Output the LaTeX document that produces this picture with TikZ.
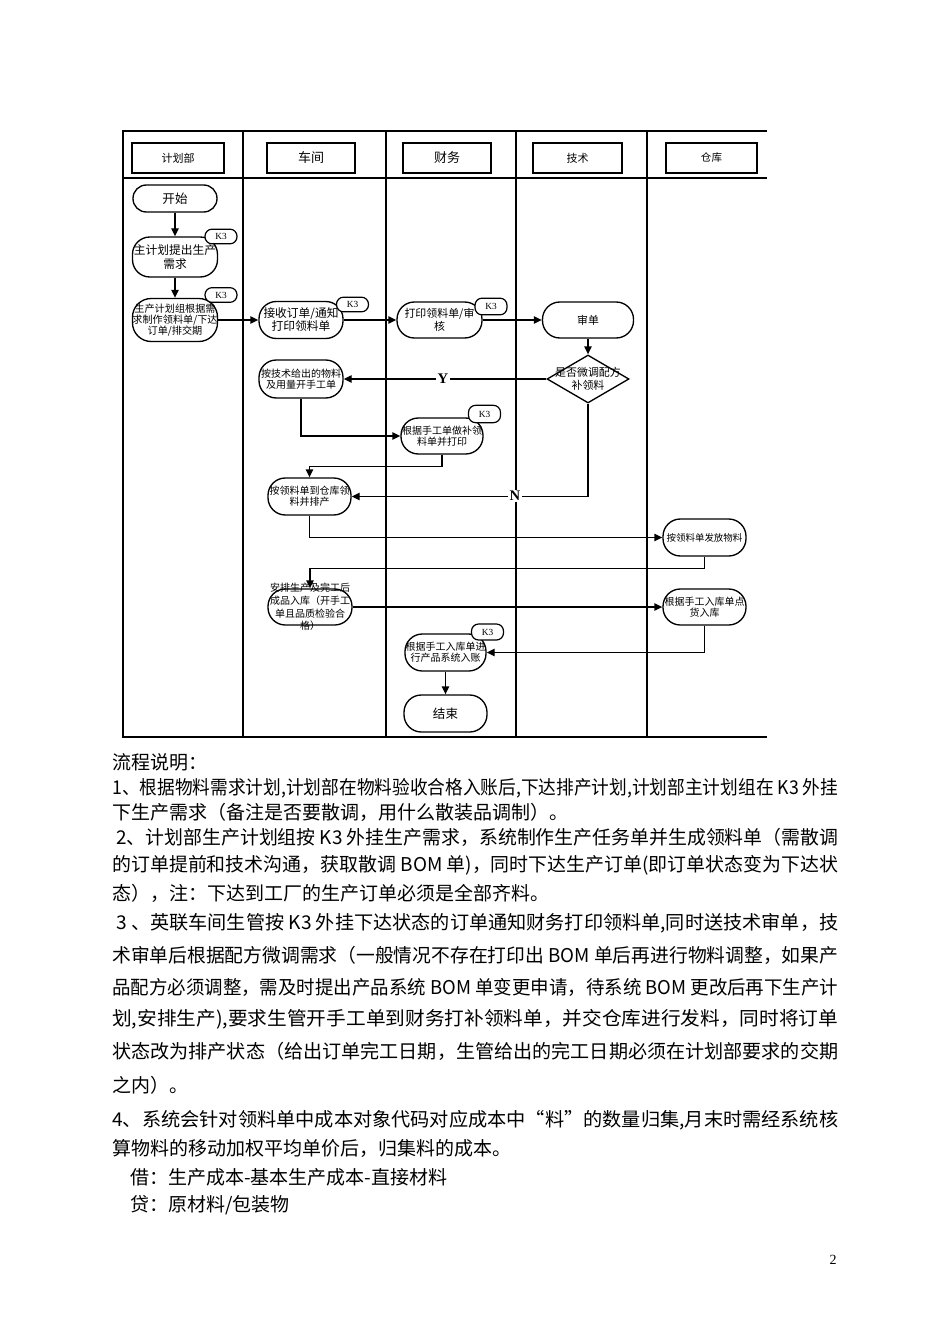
\documentclass[tikz,border=0pt]{standalone}
\usepackage{fontspec}
\usepackage{graphicx}
\newfontfamily\cjk{Noto Sans CJK SC}
\newfontfamily\lser{Liberation Serif}
\usetikzlibrary{arrows.meta,shapes.geometric}
\newlength\pxu \setlength\pxu{0.75pt}
\newcommand\fl[1]{\resizebox{726\pxu}{\height}{#1}}
\newcommand\flb[1]{\resizebox{722\pxu}{\height}{#1}}
\begin{document}
\begin{tikzpicture}[x=0.75pt,y=-0.75pt,
  frame/.style={line width=1.1pt},
  hdr/.style={draw,line width=2.2pt,minimum height=22.5pt,inner sep=0pt},
  proc/.style={draw,line width=1pt,rounded corners=13pt,inner sep=0pt,align=center,
    font=\cjk\fontsize{7.5}{8.3}\selectfont},
  tag/.style={draw,fill=white,line width=0.9pt,rounded corners=5.3pt,minimum width=24pt,
    minimum height=11pt,inner sep=0pt,font=\lser\fontsize{7}{7}\selectfont},
  con/.style={line width=1pt},
  arr/.style={line width=1pt,-{Triangle[length=6pt,width=5.5pt]}},
  yn/.style={fill=white,inner sep=1pt,font=\lser\bfseries\fontsize{11}{11}\selectfont},
  body/.style={anchor=west,inner sep=0pt,font=\cjk\fontsize{14.25}{16}\selectfont}]
\useasboundingbox (0,0) rectangle (950,1344);

% frame and lanes
\draw[frame] (767,131) -- (123,131) -- (123,737) -- (767,737);
\draw[frame] (123,178) -- (767,178);
\foreach \lx in {243,386,516,647} \draw[frame] (\lx,131) -- (\lx,737);

% headers
\node[hdr,minimum width=69pt,font=\cjk\fontsize{8.25}{9}\selectfont] (h1) at (178,158) {计划部};
\node[hdr,minimum width=66pt,font=\cjk\fontsize{9.75}{10}\selectfont] (h2) at (311,158) {车间};
\node[hdr,minimum width=66pt,font=\cjk\fontsize{9.75}{10}\selectfont] (h3) at (447,158) {财务};
\node[hdr,minimum width=66.75pt,font=\cjk\fontsize{8.25}{9}\selectfont] (h4) at (577.5,158) {技术};
\node[hdr,minimum width=68.25pt,font=\cjk\fontsize{7.9}{9}\selectfont] (h5) at (711.5,158) {仓库};

% process nodes
\node[proc,rounded corners=10pt,minimum width=63pt,minimum height=20.25pt,
  font=\cjk\fontsize{9.4}{10}\selectfont] (start) at (175,198.5) {开始};
\node[proc,minimum width=63.75pt,minimum height=30pt,
  font=\cjk\fontsize{8.8}{10.5}\selectfont] (zj) at (175,257) {主计划提出生产\\需求};
\node[proc,rounded corners=14pt,minimum width=63.75pt,minimum height=32.25pt,
  font=\cjk\fontsize{7.6}{8.3}\selectfont] (sc) at (175,320) {生产计划组根据需\\求制作领料单/下达\\订单/排交期};
\node[proc,minimum width=63pt,minimum height=27.75pt,
  font=\cjk\fontsize{8.8}{9.8}\selectfont] (js) at (301,320) {接收订单/通知\\打印领料单};
\node[proc,minimum width=63.75pt,minimum height=27pt,
  font=\cjk\fontsize{8.2}{9.5}\selectfont] (dy) at (439.5,320) {打印领料单/审\\核};
\node[proc,minimum width=68.25pt,minimum height=27pt,
  font=\cjk\fontsize{8.2}{9.5}\selectfont] (sd) at (588,320) {审单};
\node[draw,line width=1pt,diamond,minimum width=61.5pt,minimum height=36pt,inner sep=0pt,
  label={[font=\cjk\fontsize{8.2}{9.3}\selectfont,align=center]center:是否微调配方\\补领料}] (dm) at (588,379) {};
\node[proc,minimum width=63pt,minimum height=28.5pt] (aj) at (301,379) {按技术给出的物料\\及用量开手工单};
\node[proc,minimum width=61.5pt,minimum height=27pt] (gj) at (442,436) {根据手工单做补领\\料单并打印};
\node[proc,minimum width=62.25pt,minimum height=27.75pt] (al) at (309.5,496.5) {按领料单到仓库领\\料并排产};
\node[proc,minimum width=62.25pt,minimum height=27.75pt,
  font=\cjk\fontsize{7.1}{8}\selectfont] (ff) at (704.5,537.5) {按领料单发放物料};
\node[proc,minimum width=63pt,minimum height=27pt,
  label={[font=\cjk\fontsize{7.5}{9.4}\selectfont,align=center]center:安排生产及完工后\\成品入库（开手工\\单且品质检验合\\格）}] (ap) at (310,607) {};
\node[proc,minimum width=62.25pt,minimum height=27pt] (dh) at (704.5,607) {根据手工入库单点\\货入库};
\node[proc,minimum width=60.75pt,minimum height=27.75pt] (rz) at (445.5,652.5) {根据手工入库单进\\行产品系统入账};
\node[proc,minimum width=62.25pt,minimum height=27.75pt,
  font=\cjk\fontsize{9.4}{10}\selectfont] (end) at (445.5,713.5) {结束};

% K3 tags
\node[tag] (k1) at (221,236.5) {K3};
\node[tag] (k2) at (221,295) {K3};
\node[tag] (k3) at (352.5,304.5) {K3};
\node[tag,minimum height=12.5pt] (k4) at (491,306.5) {K3};
\node[tag,minimum height=13pt] (k5) at (484.5,414) {K3};
\node[tag,minimum height=12pt] (k6) at (487.5,632) {K3};

% connectors
\draw[arr] (start.south) -- (zj.north);
\draw[arr] (zj.south) -- (sc.north);
\draw[arr] (sc.east) -- (js.west);
\draw[arr] (js.east) -- (dy.west);
\draw[arr] (dy.east) -- (sd.west);
\draw[arr] (sd.south) -- (dm.north);
\draw[arr] (dm.west) -- (aj.east);
\draw[arr] (aj.south) |- (gj.west);
\draw[arr] (gj.south) -- ++(0,12) -| (al.north);
\draw[arr] (dm.south) |- (al.east);
\draw[arr] (al.south) |- (ff.west);
\draw[arr] (ff.south) -- ++(0,12) -| (ap.north);
\draw[arr] (ap.east) -- (dh.west);
\draw[arr] (dh.south) |- (rz.east);
\draw[arr] (rz.south) -- (end.north);

\node[yn] (ly) at (443,379) {Y};
\node[yn] (ln) at (515,496) {N};

% text
\node[body] (t1) at (112,762) {流程说明：};
\node[body] (t2) at (112,788) {\fl{1、根据物料需求计划,计划部在物料验收合格入账后,下达排产计划,计划部主计划组在 K3 外挂}};
\node[body] (t3) at (112,812) {下生产需求（备注是否要散调，用什么散装品调制）。};
\node[body] (t4) at (116,837) {\flb{2、计划部生产计划组按 K3 外挂生产需求，系统制作生产任务单并生成领料单（需散调}};
\node[body] (t5) at (112,865) {\fl{的订单提前和技术沟通，获取散调 BOM 单)，同时下达生产订单(即订单状态变为下达状}};
\node[body] (t6) at (112,893) {态），注：下达到工厂的生产订单必须是全部齐料。};
\node[body] (t7) at (116,923) {\flb{3 、英联车间生管按 K3 外挂下达状态的订单通知财务打印领料单,同时送技术审单，技}};
\node[body] (t8) at (112,955) {\fl{术审单后根据配方微调需求（一般情况不存在打印出 BOM 单后再进行物料调整，如果产}};
\node[body] (t9) at (112,987) {\fl{品配方必须调整，需及时提出产品系统 BOM 单变更申请，待系统 BOM 更改后再下生产计}};
\node[body] (t10) at (112,1019) {\fl{划,安排生产),要求生管开手工单到财务打补领料单，并交仓库进行发料，同时将订单}};
\node[body] (t11) at (112,1051) {\fl{状态改为排产状态（给出订单完工日期，生管给出的完工日期必须在计划部要求的交期}};
\node[body] (t12) at (112,1085) {之内）。};
\node[body] (t13) at (112,1120) {\fl{4、系统会针对领料单中成本对象代码对应成本中“料”的数量归集,月末时需经系统核}};
\node[body] (t14) at (112,1148) {算物料的移动加权平均单价后，归集料的成本。};
\node[body] (t15) at (130,1177) {借：生产成本-基本生产成本-直接材料};
\node[body] (t16) at (130,1205) {贷：原材料/包装物};

\node[font=\lser\fontsize{10.5}{11}\selectfont] (pg) at (833,1260) {2};
\end{tikzpicture}
\end{document}
